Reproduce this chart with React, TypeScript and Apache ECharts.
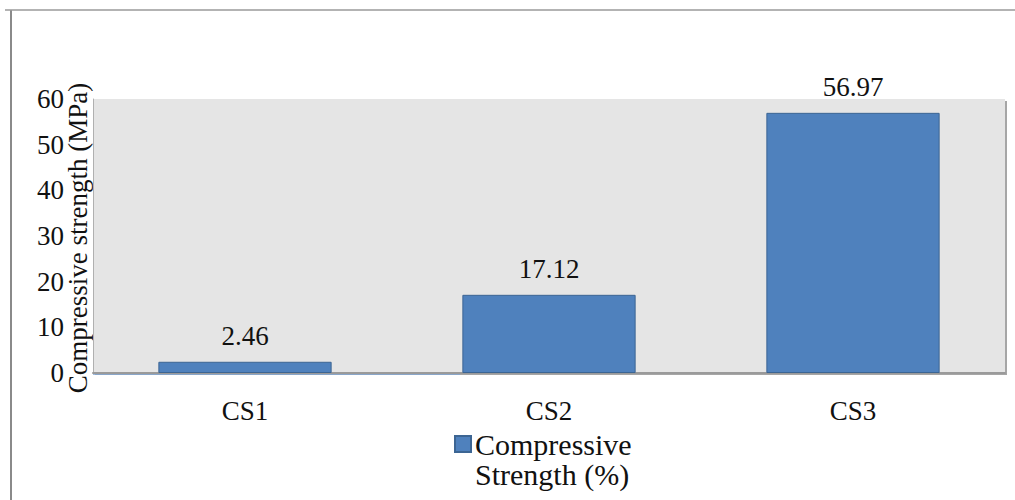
import React, { useEffect, useRef } from "react";
import * as echarts from "echarts";

const categories = ["CS1", "CS2", "CS3"];
const values = [2.46, 17.12, 56.97];
const seriesName = "Compressive";
const legendSecondLine = "Strength (%)";
const yAxisTitle = "Compressive strength (MPa)";

const FONT = "Liberation Serif";

export default function App() {
  const ref = useRef<HTMLDivElement>(null);
  useEffect(() => {
    if (!ref.current) return;
    const chart = echarts.init(ref.current, undefined, { renderer: "svg" });
    chart.setOption({
      animation: false,
      backgroundColor: "#ffffff",
      textStyle: { fontFamily: FONT },
      grid: {
        left: 93,
        right: 10,
        top: 99,
        bottom: 127,
        show: true,
        backgroundColor: "#e5e5e5",
        borderWidth: 0,
        shadowColor: "rgba(0,0,0,0.35)",
        shadowOffsetX: 2,
        shadowOffsetY: 2,
        shadowBlur: 1,
      },
      legend: {
        left: 449,
        top: 424,
        itemWidth: 16,
        itemHeight: 16,
        itemGap: 0,
        icon: "rect",
        data: [seriesName],
        textStyle: { fontFamily: FONT, fontSize: 30, color: "#111", padding: [0, 0, 0, -1] },
      },
      xAxis: {
        type: "category",
        data: categories,
        axisLine: { show: true, lineStyle: { color: "#9a9a9a", width: 2 } },
        axisTick: { show: false },
        axisLabel: { fontFamily: FONT, fontSize: 27, color: "#111", margin: 24 },
      },
      yAxis: {
        type: "value",
        min: 0,
        max: 60,
        interval: 10,
        axisLine: { show: true, lineStyle: { color: "#b0b0b0", width: 1 } },
        axisTick: { show: false },
        splitLine: { show: false },
        axisLabel: { fontFamily: FONT, fontSize: 27, color: "#111", margin: 29 },
      },
      series: [
        {
          name: seriesName,
          type: "bar",
          data: values,
          barWidth: "57%",
          itemStyle: { color: "#4f81bd", borderColor: "#3c6593", borderWidth: 1 },
          label: {
            show: true,
            position: "top",
            distance: 12,
            fontFamily: FONT,
            fontSize: 27,
            color: "#111",
            formatter: (p: any) => p.value.toFixed(2),
          },
        },
      ],
      graphic: [
        { type: "line", shape: { x1: 11, y1: 10, x2: 11, y2: 500 }, style: { stroke: "#8a8a8a", lineWidth: 2 } },
        { type: "line", shape: { x1: 5, y1: 10, x2: 1015, y2: 10 }, style: { stroke: "#9a9a9a", lineWidth: 1.5 } },
        { type: "line", shape: { x1: 93, y1: 374, x2: 460, y2: 374 }, style: { stroke: "#7fa6d6", lineWidth: 1.5 } },
        {
          type: "text",
          x: 78,
          y: 238,
          rotation: Math.PI / 2,
          style: {
            text: yAxisTitle,
            font: `27px ${FONT}`,
            fill: "#111",
            align: "center",
            verticalAlign: "middle",
          },
        },
        {
          type: "text",
          left: 475,
          top: 459,
          style: { text: legendSecondLine, font: `30px ${FONT}`, fill: "#111" },
        },
      ],
    });
    return () => chart.dispose();
  }, []);
  return <div ref={ref} style={{ width: 1015, height: 500, position: "absolute", left: 0, top: 0 }} />;
}
